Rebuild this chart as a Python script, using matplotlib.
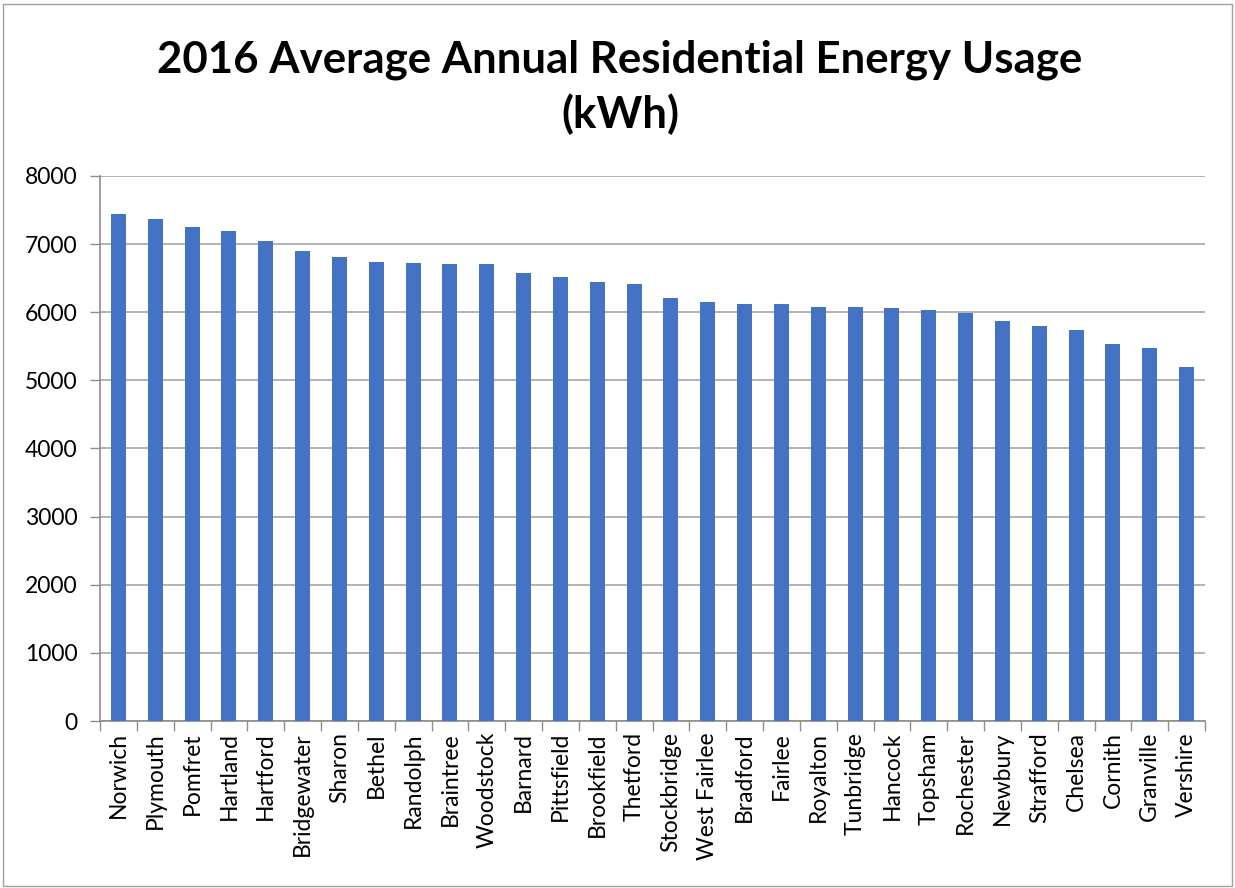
import matplotlib
matplotlib.use("Agg")
import matplotlib.pyplot as plt
import numpy as np
from matplotlib.patches import Rectangle

towns = [
    "Norwich", "Plymouth", "Pomfret", "Hartland", "Hartford", "Bridgewater",
    "Sharon", "Bethel", "Randolph", "Braintree", "Woodstock", "Barnard",
    "Pittsfield", "Brookfield", "Thetford", "Stockbridge", "West Fairlee",
    "Bradford", "Fairlee", "Royalton", "Tunbridge", "Hancock", "Topsham",
    "Rochester", "Newbury", "Strafford", "Chelsea", "Cornith", "Granville",
    "Vershire",
]
usage_kwh = [
    7437, 7374, 7257, 7194, 7051, 6905,
    6807, 6743, 6729, 6714, 6709, 6582,
    6523, 6446, 6421, 6216, 6152,
    6117, 6117, 6084, 6074, 6059, 6035,
    5996, 5874, 5800, 5746, 5529, 5471,
    5201,
]
yticks = [0, 1000, 2000, 3000, 4000, 5000, 6000, 7000, 8000]

plt.rcParams["font.family"] = ["Lato", "DejaVu Sans"]

W, H = 1235, 888
fig = plt.figure(figsize=(W / 100, H / 100), dpi=100)
fig.patches.append(Rectangle((3 / W, 2 / H), 1229 / W, 882 / H, transform=fig.transFigure,
                             fill=False, edgecolor="#a0a0a0", linewidth=1.0))

ax = fig.add_axes([100 / W, (H - 721) / H, 1105 / W, 545 / H])
x = np.arange(len(towns))
ax.bar(x, usage_kwh, width=0.41, color="#4472C4", zorder=3)

ax.set_xlim(-0.5, len(towns) - 0.5)
ax.set_ylim(0, 8000)
ax.set_yticks(yticks)
ax.set_yticklabels([str(v) for v in yticks], fontsize=16.5)
ax.set_xticks(x)
ax.set_xticklabels(towns, rotation=90, fontsize=16.5)
ax.tick_params(axis="x", length=0, pad=8)
ax.set_xticks(np.arange(len(towns) + 1) - 0.5, minor=True)
ax.tick_params(axis="x", which="minor", length=7, color="#8c8c8c", width=1)
ax.tick_params(axis="y", length=7, color="#8c8c8c", width=1, pad=9)

ax.grid(axis="y", color="#a6a6a6", linewidth=1.2, zorder=0)
for s in ["top", "right"]:
    ax.spines[s].set_visible(False)
for s in ["left", "bottom"]:
    ax.spines[s].set_color("#8c8c8c")
    ax.spines[s].set_linewidth(1.2)

fig.text(620 / W, 1 - 60 / H, "2016 Average Annual Residential Energy Usage",
         ha="center", va="center", fontsize=31.5, fontweight="bold")
fig.text(620 / W, 1 - 114 / H, "(kWh)",
         ha="center", va="center", fontsize=31.5, fontweight="bold")

fig.savefig("out.png", dpi=100)
